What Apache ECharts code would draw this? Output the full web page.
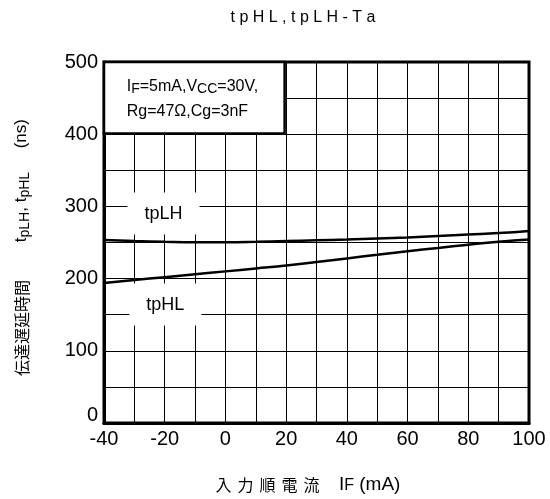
<!DOCTYPE html>
<html><head><meta charset="utf-8">
<script src="https://cdn.jsdelivr.net/npm/echarts@6/dist/echarts.min.js"></script>
<style>html,body{margin:0;padding:0;background:#fff}#c{width:550px;height:499px}</style>
</head><body><div id="c"></div>
<script>
var xValues = [-40, -30, -20, -10, 0, 10, 20, 30, 40, 50, 60, 70, 80, 90, 100];
var tpLH = [253.5, 252, 251, 250.5, 250.5, 251, 252, 253, 254, 255.5, 257, 259, 261, 263, 266];
var tpHL = [194, 198, 202, 206, 210, 214, 218, 223, 228, 233, 238, 242.5, 247, 251, 254];
var xTickLabels = ['-40', '-20', '0', '20', '40', '60', '80', '100'];
var yTickLabels = ['0', '100', '200', '300', '400', '500'];

function pairs(xs, ys) { return xs.map(function (x, i) { return [x, ys[i]]; }); }
var FONT = 'Liberation Sans, Arial, sans-serif';
var CJK = 'Noto Sans CJK JP';

var chart = echarts.init(document.getElementById('c'));
chart.setOption({
  animation: false,
  textStyle: { fontFamily: FONT, color: '#000' },
  title: {
    text: 't p H L , t p L H - T a',
    left: 298, top: 5, textAlign: 'center',
    textStyle: { fontFamily: FONT, fontSize: 16, fontWeight: 'normal', color: '#000' }
  },
  grid: { left: 104, right: 21, top: 62, bottom: 75, show: true, borderColor: '#000', borderWidth: 3, backgroundColor: 'transparent' },
  xAxis: {
    type: 'value', min: -40, max: 100, interval: 10,
    name: '{c|入}{c|力}{c|順}{c|電}{e|流}{n| I}{s|F}{n| (mA)}',
    nameLocation: 'middle', nameGap: 52,
    nameTextStyle: {
      padding: [0, 17, 0, 0],
      rich: {
        c: { fontSize: 16, fontFamily: CJK, color: '#000', padding: [0, 6, 0, 0] },
        e: { fontSize: 16, fontFamily: CJK, color: '#000', padding: [0, 14, 0, 0] },
        n: { fontSize: 19, fontFamily: FONT, color: '#000' },
        s: { fontSize: 16, fontFamily: FONT, color: '#000', padding: [3, 0, 0, 0] }
      }
    },
    axisLine: { show: true, onZero: false, lineStyle: { color: '#000', width: 3 } },
    axisTick: { show: false },
    axisLabel: {
      fontSize: 20, color: '#000', fontFamily: FONT, margin: 6,
      formatter: function (v) { return xTickLabels.indexOf(String(v)) >= 0 ? String(v) : ''; }
    },
    splitLine: { show: true, lineStyle: { color: '#000', width: 1 } }
  },
  yAxis: {
    type: 'value', min: 0, max: 500, interval: 50,
    name: '{c|伝達遅延時間}{n|        t}{s|pLH}{n|, t}{s|pHL}{n|     (ns)}',
    nameLocation: 'middle', nameGap: 72, nameRotate: 90,
    nameTextStyle: {
      padding: [0, 10, 0, 0],
      rich: {
        c: { fontSize: 16, fontFamily: CJK, color: '#000' },
        n: { fontSize: 17, fontFamily: FONT, color: '#000' },
        s: { fontSize: 14, fontFamily: FONT, color: '#000', padding: [7, 0, 0, 0] }
      }
    },
    axisLine: { show: true, onZero: false, lineStyle: { color: '#000', width: 3 } },
    axisTick: { show: false },
    axisLabel: {
      fontSize: 20, color: '#000', fontFamily: FONT, margin: 6,
      formatter: function (v) {
        var s = String(v);
        if (yTickLabels.indexOf(s) < 0) return '';
        return s === '0' ? '{z|0}' : s;
      },
      rich: { z: { fontSize: 20, fontFamily: FONT, color: '#000', padding: [0, 0, 16, 0] } }
    },
    splitLine: { show: true, lineStyle: { color: '#000', width: 1 } }
  },
  series: [
    {
      name: 'tpLH', type: 'line', smooth: true, symbol: 'none',
      data: pairs(xValues, tpLH),
      lineStyle: { color: '#000', width: 2.5 },
      markArea: {
        silent: true,
        itemStyle: { color: '#fff', borderColor: '#000', borderWidth: 2.5 },
        label: {
          show: true, position: 'insideTopLeft', distance: 0, padding: [13, 0, 0, 24],
          formatter: '{n|I}{s|F}{n|=5mA,V}{s|CC}{n|=30V,}\n{n|Rg=47Ω,Cg=3nF}',
          rich: {
            n: { fontSize: 16, fontFamily: FONT, color: '#000', lineHeight: 25 },
            s: { fontSize: 14, fontFamily: FONT, color: '#000', lineHeight: 25, padding: [5, 0, 0, 0] }
          }
        },
        data: [[{ coord: [-40, 500] }, { coord: [19.5, 401] }]]
      },
      markPoint: {
        symbol: 'circle', symbolSize: 0, silent: true,
        label: {
          show: true, position: 'inside', fontSize: 18, fontFamily: FONT, color: '#000',
          backgroundColor: '#fff', padding: [12, 17, 12, 17],
          formatter: function (p) { return p.name; }
        },
        data: [
          { name: 'tpLH', coord: [-20.4, 290] },
          { name: 'tpHL', coord: [-19.8, 164] }
        ]
      }
    },
    {
      name: 'tpHL', type: 'line', smooth: true, symbol: 'none',
      data: pairs(xValues, tpHL),
      lineStyle: { color: '#000', width: 2.5 }
    }
  ]
});
</script></body></html>
